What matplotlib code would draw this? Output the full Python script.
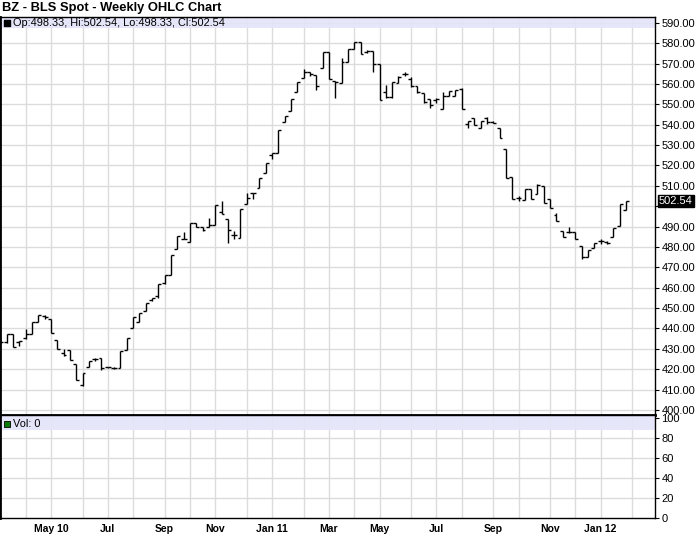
import matplotlib
matplotlib.use("Agg")
import matplotlib.pyplot as plt
import matplotlib.transforms as mtransforms
import numpy as np
import pandas as pd

# weekly OHLC, one bar per Monday from 2010-03-08
first_week = "2010-03-08"
opens = [436.5, 433.3, 437.4, 433.3, 435.4, 437.1, 443.1, 446.0, 444.8, 434.4,
         427.7, 429.2, 422.3, 412.3, 421.2, 425.1, 425.3, 421.0, 420.8, 420.7,
         429.4, 440.0, 443.3, 448.5, 453.9, 455.9, 462.5, 466.2, 478.9, 484.1,
         482.2, 492.0, 490.0, 490.0, 490.7, 497.2, 493.9, 485.8, 484.6, 501.0,
         506.7, 509.1, 516.2, 525.0, 526.0, 541.2, 546.6, 556.0, 562.8, 565.8,
         564.5, 567.9, 575.6, 561.7, 560.4, 570.7, 577.2, 580.5, 575.9, 576.1,
         569.7, 556.0, 553.5, 560.6, 564.9, 562.5, 559.2, 555.6, 552.4, 552.2,
         547.8, 554.0, 554.3, 557.6, 540.5, 543.2, 538.6, 543.5, 541.5, 538.6,
         527.9, 514.4, 503.9, 503.0, 508.4, 505.9, 510.0, 503.5, 495.8, 488.0,
         487.5, 487.5, 480.7, 475.3, 479.6, 483.1, 482.5, 484.8, 490.5, 498.33]
highs = [437.5, 437.4, 437.4, 433.8, 439.5, 443.1, 446.4, 446.4, 444.8, 434.4,
         429.7, 429.2, 422.3, 418.2, 424.0, 425.3, 425.3, 421.3, 421.0, 428.9,
         435.4, 445.6, 447.7, 452.6, 454.8, 461.6, 466.0, 476.0, 485.4, 487.4,
         492.0, 492.0, 490.0, 494.4, 500.5, 502.6, 493.9, 487.8, 498.8, 506.7,
         506.7, 514.0, 521.1, 526.0, 537.5, 544.5, 552.7, 560.9, 567.2, 565.8,
         564.5, 575.6, 575.6, 561.7, 572.8, 577.2, 580.5, 580.5, 576.6, 576.1,
         569.7, 559.5, 561.0, 563.8, 566.1, 563.5, 559.2, 555.6, 552.4, 553.3,
         556.0, 556.8, 557.1, 557.9, 541.8, 543.2, 541.8, 544.0, 541.8, 538.6,
         527.9, 514.4, 505.0, 508.4, 508.4, 510.8, 510.0, 503.5, 496.5, 488.0,
         489.7, 487.5, 480.7, 478.3, 481.8, 484.0, 483.0, 489.3, 501.0, 502.54]
lows = [433.0, 433.0, 430.8, 431.3, 435.0, 437.1, 443.1, 444.8, 437.9, 429.7,
        426.7, 424.4, 414.9, 411.9, 421.2, 424.0, 419.8, 420.4, 420.2, 420.7,
        429.4, 440.0, 443.3, 448.5, 453.5, 455.1, 462.0, 466.2, 478.9, 484.1,
        482.2, 490.0, 488.0, 490.0, 490.7, 496.0, 481.8, 483.7, 484.6, 501.0,
        503.4, 509.1, 516.2, 523.0, 526.0, 541.2, 546.6, 556.0, 562.8, 563.8,
        556.9, 567.9, 562.5, 553.2, 560.4, 570.7, 577.2, 574.8, 575.0, 566.1,
        552.3, 553.0, 553.0, 560.6, 564.0, 558.5, 555.6, 550.8, 548.4, 550.8,
        547.8, 554.0, 554.0, 547.8, 538.6, 539.9, 538.6, 540.5, 540.8, 533.3,
        514.0, 503.4, 502.5, 502.9, 503.4, 505.9, 501.4, 499.0, 492.6, 485.1,
        486.8, 484.0, 474.2, 475.3, 479.6, 481.5, 481.3, 484.8, 490.5, 498.33]
closes = [433.5, 437.4, 430.8, 433.8, 437.1, 443.1, 446.4, 445.7, 437.9, 429.7,
          427.2, 424.4, 414.9, 418.2, 424.0, 425.1, 420.5, 421.2, 420.7, 428.9,
          435.4, 445.6, 447.7, 452.6, 454.8, 461.6, 466.0, 476.0, 485.4, 484.1,
          492.0, 490.0, 488.5, 490.7, 500.5, 496.0, 488.4, 485.8, 498.8, 504.2,
          506.7, 514.0, 521.1, 526.0, 537.5, 544.5, 552.7, 560.9, 565.8, 565.0,
          559.2, 575.6, 562.5, 560.9, 570.7, 577.2, 580.5, 574.8, 576.4, 569.9,
          552.3, 553.5, 560.9, 563.3, 564.9, 559.0, 556.0, 551.1, 549.8, 552.7,
          554.3, 556.8, 557.1, 547.8, 541.8, 539.9, 541.8, 541.5, 541.0, 533.3,
          514.0, 503.5, 504.0, 508.4, 503.5, 510.6, 501.5, 499.1, 492.6, 485.1,
          487.5, 484.0, 475.3, 478.3, 481.8, 482.8, 481.8, 489.3, 501.0, 502.54]
volume = [0] * len(closes)

tick_months = ["2010-05", "2010-07", "2010-09", "2010-11", "2011-01", "2011-03",
               "2011-05", "2011-07", "2011-09", "2011-11", "2012-01"]
tick_labels = ["May 10", "Jul", "Sep", "Nov", "Jan 11", "Mar",
               "May", "Jul", "Sep", "Nov", "Jan 12"]
price_ticks = np.arange(400, 591, 10)
vol_ticks = [0, 20, 40, 60, 80, 100]

n = len(closes)
idx = np.arange(n)
weeks = pd.date_range(first_week, periods=n + 6, freq="W-MON")
ym = weeks.strftime("%Y-%m")
month_starts = [i for i in range(1, len(weeks)) if ym[i] != ym[i - 1]]
tick_pos = [int(np.argmax(ym == m)) for m in tick_months]

plt.rcParams["font.family"] = ["Liberation Sans", "DejaVu Sans"]
fig = plt.figure(figsize=(7.0, 5.36), dpi=100)
W, H = 700.0, 536.0
ax = fig.add_axes([0, 1 - 415 / H, 655 / W, 398 / H])
axv = fig.add_axes([0, 1 - 518 / H, 655 / W, 103 / H])

xlim = (-0.06, 103.6)
grid_c = "#dcdcdc"
band_c = "#e4e4fa"

for a in (ax, axv):
    a.set_xlim(*xlim)
    a.set_axisbelow(True)
    for m in month_starts:
        a.axvline(m, color=grid_c, lw=1.0, zorder=0.5)
    a.yaxis.tick_right()
    a.tick_params(axis="y", direction="out", length=3, width=0.8,
                  labelsize=8, pad=1.5, colors="black")
    for s in a.spines.values():
        s.set_color("black")
        s.set_linewidth(1.0)
    a.spines["left"].set_linewidth(2.0)

# price panel
ax.set_ylim(397.5, 592.9)
ax.set_yticks(price_ticks)
# the last-price box sits over the 500.00 label, so that label is not drawn
ax.set_yticklabels(["" if abs(v - closes[-1]) < 5 else f"{v:.2f}" for v in price_ticks])
for v in price_ticks:
    ax.axhline(v, color=grid_c, lw=1.0, zorder=0.5)
ax.set_xticks([])
ax.spines["bottom"].set_linewidth(2.0)

tw = 0.46
ax.vlines(idx, lows, highs, color="black", lw=1.0, zorder=3)
ax.hlines(opens, idx - tw, idx, color="black", lw=1.0, zorder=3)
ax.hlines(closes, idx, idx + tw, color="black", lw=1.0, zorder=3)

ax.add_patch(plt.Rectangle((0, 1 - 11 / 398), 1, 11 / 398, transform=ax.transAxes,
                           facecolor=band_c, edgecolor="none", alpha=0.9, zorder=0.8))
ax.scatter([7 / 655], [1 - 5.5 / 398], s=24, marker="s", color="black",
           transform=ax.transAxes, zorder=4, clip_on=False)
ax.text(13 / 655, 1 - 5.8 / 398,
        f"Op:{opens[-1]:.2f}, Hi:{highs[-1]:.2f}, Lo:{lows[-1]:.2f}, Cl:{closes[-1]:.2f}",
        transform=ax.transAxes, fontsize=7.9, va="center", ha="left", zorder=4)

trans = mtransforms.blended_transform_factory(ax.transAxes, ax.transData)
ax.text(1.006, closes[-1], f"{closes[-1]:.2f}", transform=trans, fontsize=8,
        color="white", va="center", ha="left", clip_on=False, zorder=6,
        bbox=dict(facecolor="black", edgecolor="black", pad=0.8))

# volume panel
axv.set_ylim(0, 103)
axv.set_yticks(vol_ticks)
axv.set_yticklabels([str(v) for v in vol_ticks])
for v in vol_ticks[1:-1]:
    axv.axhline(v, color=grid_c, lw=1.0, zorder=0.5)
axv.bar(idx, volume, width=0.6, color="#006400")
axv.add_patch(plt.Rectangle((0, 1 - 15 / 103), 1, 15 / 103, transform=axv.transAxes,
                            facecolor=band_c, edgecolor="none", alpha=0.9, zorder=0.8))
axv.scatter([7 / 655], [1 - 9 / 103], s=24, marker="s", color="#0a7a0a",
            edgecolors="black", linewidths=0.6, transform=axv.transAxes, zorder=4)
axv.text(13 / 655, 1 - 9.2 / 103, f"Vol: {sum(volume)}", transform=axv.transAxes,
         fontsize=7.9, va="center", ha="left", zorder=4)
axv.set_xticks(tick_pos)
axv.set_xticklabels(tick_labels, fontsize=7.5, fontweight="bold")
axv.tick_params(axis="x", length=0, pad=4)
axv.spines["top"].set_linewidth(1.0)

fig.text(2 / W, 1 - 8.5 / H, "BZ - BLS Spot - Weekly OHLC Chart", fontsize=9.3,
         fontweight="bold", va="center", ha="left")

fig.savefig("out.png", dpi=100)
